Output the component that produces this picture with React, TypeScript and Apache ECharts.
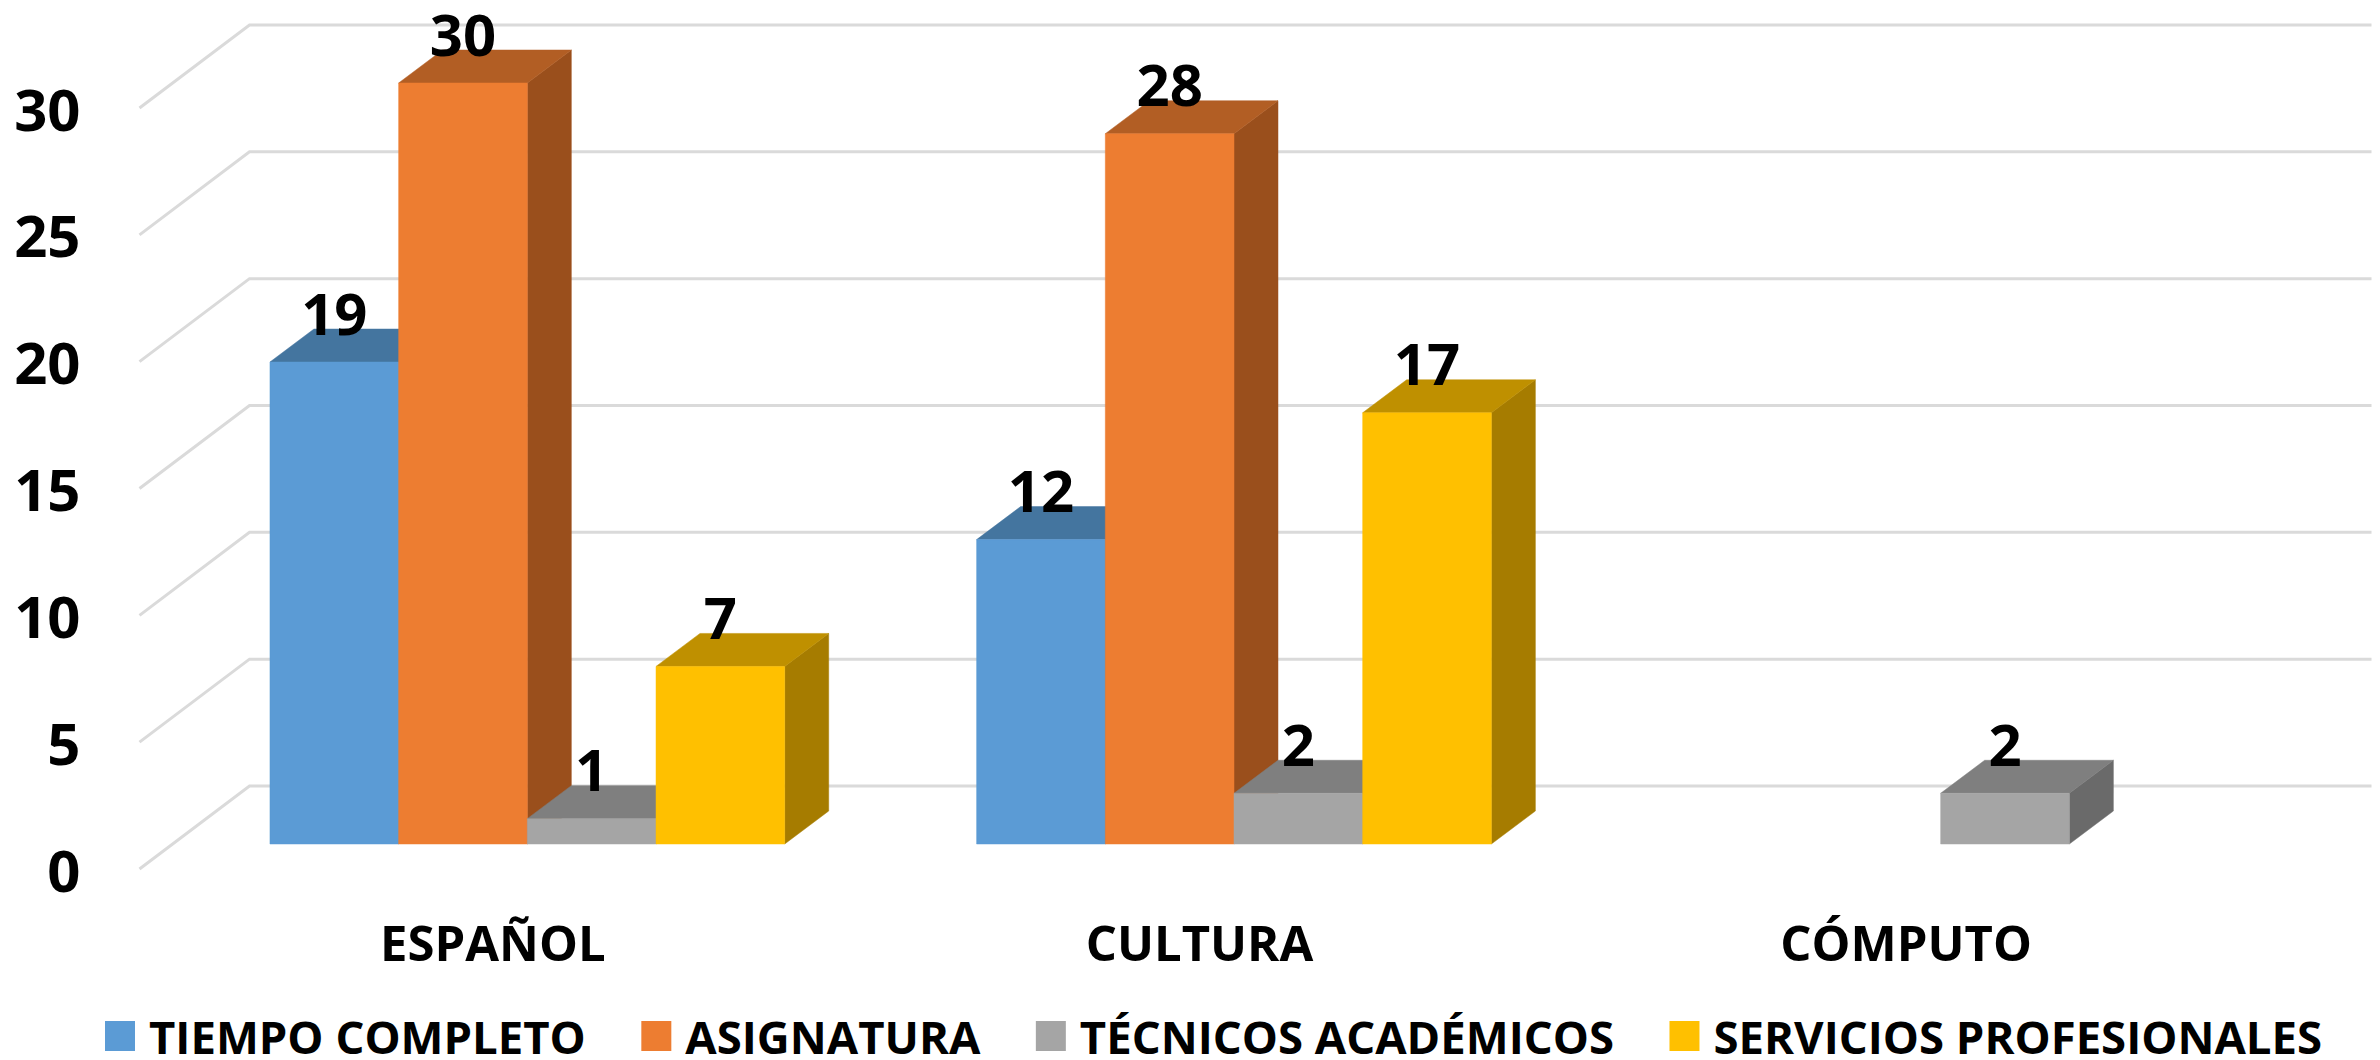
import React, { useEffect, useRef } from "react";
import * as echarts from "echarts";

const categories = ["ESPAÑOL", "CULTURA", "CÓMPUTO"];
const yTicks = [0, 5, 10, 15, 20, 25, 30];
const seriesNames = ["TIEMPO COMPLETO", "ASIGNATURA", "TÉCNICOS ACADÉMICOS", "SERVICIOS PROFESIONALES"];
const tiempoCompleto = [19, 12, null];
const asignatura = [30, 28, null];
const tecnicos = [1, 2, 2];
const servicios = [7, 17, null];
const seriesValues = [tiempoCompleto, asignatura, tecnicos, servicios];
const frontColors = ["#5B9BD5", "#ED7D31", "#A5A5A5", "#FFC000"];
const topColors = ["#44759F", "#B25E24", "#7F7F7F", "#BF9000"];
const sideColors = ["#3B6591", "#9A4F1C", "#6A6A6A", "#A67C00"];

const FONT = "'Open Sans', sans-serif";
const BAR_DX = 44, BAR_DY = 33;
const WALL_DX = 110, WALL_DY = 83;
const PLANE_DX = 34.5, PLANE_DY = -25;

function barRenderer(si: number) {
  return (_p: any, api: any) => {
    const v = api.value(1);
    if (v == null || isNaN(v)) return null;
    const idx = api.value(0);
    const top = api.coord([idx, v]);
    const bot = api.coord([idx, 0]);
    const w = api.size([1, 0])[0] * 0.1821;
    const x0 = top[0] + PLANE_DX + (si - 2) * w;
    const x1 = x0 + w;
    const yb = bot[1] + PLANE_DY;
    const yt = top[1] + PLANE_DY;
    const poly = (points: number[][], fill: string) => ({
      type: "polygon",
      shape: { points },
      style: { fill, stroke: fill, lineWidth: 0.5 },
    });
    return {
      type: "group",
      children: [
        poly([[x1, yb], [x1 + BAR_DX, yb - BAR_DY], [x1 + BAR_DX, yt - BAR_DY], [x1, yt]], sideColors[si]),
        poly([[x0, yt], [x0 + BAR_DX, yt - BAR_DY], [x1 + BAR_DX, yt - BAR_DY], [x1, yt]], topColors[si]),
        poly([[x0, yb], [x1, yb], [x1, yt], [x0, yt]], frontColors[si]),
        {
          type: "text",
          z2: 100,
          style: {
            text: String(v),
            x: (x0 + x1) / 2,
            y: yt - 50,
            fill: "#000",
            fontFamily: FONT,
            fontWeight: "bold",
            fontSize: 58,
            lineHeight: 44,
            align: "center",
            verticalAlign: "middle",
          },
        },
      ],
    };
  };
}

function wallRenderer(params: any, api: any) {
  const c = params.coordSys;
  const y = api.coord([0, api.value(0)])[1];
  return {
    type: "polyline",
    shape: {
      points: [
        [c.x, y],
        [c.x + WALL_DX, y - WALL_DY],
        [c.x + c.width + WALL_DX + 2, y - WALL_DY],
      ],
    },
    style: { fill: "none", stroke: "#DADADA", lineWidth: 3 },
  };
}

export default function App() {
  const ref = useRef<HTMLDivElement>(null);
  useEffect(() => {
    document.body.style.margin = "0";
    const chart = echarts.init(ref.current!, null, { renderer: "svg" });
    chart.setOption({
      animation: false,
      backgroundColor: "#fff",
      grid: { left: 139.5, top: 108, width: 2120, height: 761, containLabel: false },
      legend: {
        left: 105,
        top: 1013,
        padding: 0,
        data: seriesNames,
        icon: "rect",
        itemWidth: 30,
        itemHeight: 30,
        itemGap: 55.5,
        selectedMode: false,
        textStyle: {
          fontFamily: FONT,
          fontWeight: "bold",
          fontSize: 45.5,
          lineHeight: 40,
          color: "#000",
          padding: [0, 0, 0, 9],
        },
      },
      xAxis: {
        type: "category",
        data: categories,
        axisLine: { show: false },
        axisTick: { show: false },
        splitLine: { show: false },
        axisLabel: { fontFamily: FONT, fontWeight: "bold", fontSize: 49, color: "#000", margin: 48 },
      },
      yAxis: {
        type: "value",
        min: 0,
        max: 30,
        interval: 5,
        axisLine: { show: false },
        axisTick: { show: false },
        splitLine: { show: false },
        axisLabel: { fontFamily: FONT, fontWeight: "bold", fontSize: 58, color: "#000", margin: 59 },
      },
      series: [
        {
          type: "custom",
          name: "walls",
          silent: true,
          z: 1,
          clip: false,
          data: yTicks.map((t) => [t]),
          encode: { y: 0 },
          renderItem: wallRenderer,
        },
        ...seriesNames.map((name, si) => ({
          type: "custom",
          name,
          z: 2 + si,
          clip: false,
          itemStyle: { color: frontColors[si] },
          data: seriesValues[si].map((v, i) => [i, v]),
          encode: { x: 0, y: 1 },
          renderItem: barRenderer(si),
        })),
      ],
    });
    return () => chart.dispose();
  }, []);
  return <div ref={ref} style={{ position: "absolute", left: 0, top: 0, width: 2380, height: 1060 }} />;
}
